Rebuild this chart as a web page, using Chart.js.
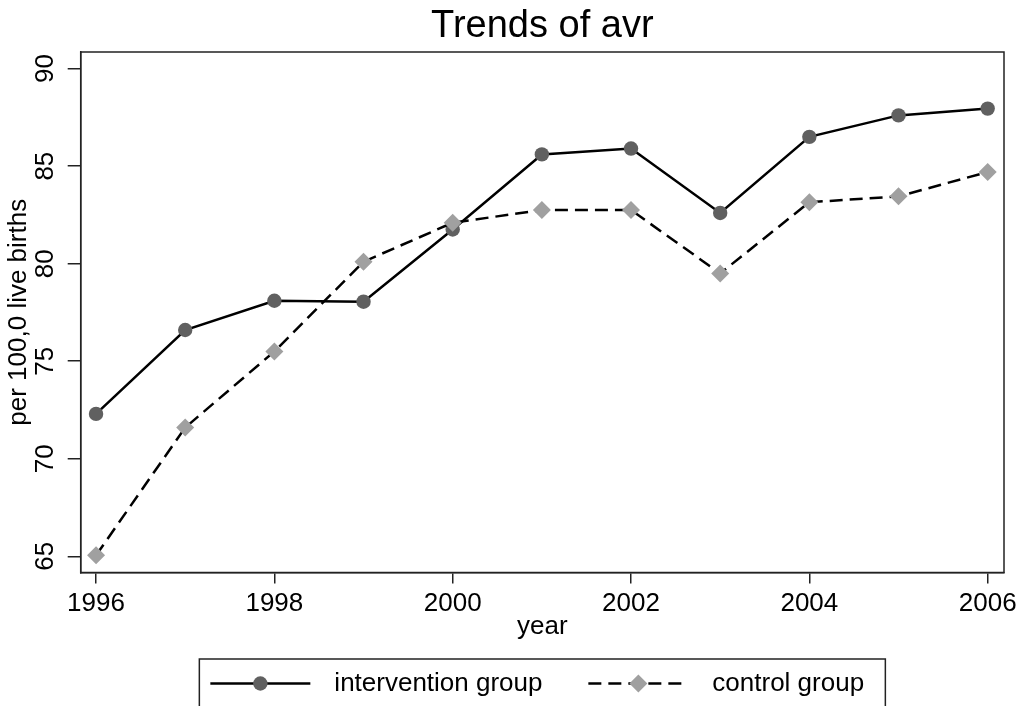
<!DOCTYPE html>
<html lang="en">
<head>
<meta charset="UTF-8">
<title>Trends of avr</title>
<script src="https://cdn.jsdelivr.net/npm/chart.js"></script>
<style>
  body { margin: 0; background: #fff; }
</style>
</head>
<body>
<canvas id="avrChart" width="1024" height="706"></canvas>
<script>
// values
const years = [1996, 1997, 1998, 1999, 2000, 2001, 2002, 2003, 2004, 2005, 2006];
const intervention = [72.3, 76.6, 78.1, 78.05, 81.75, 85.6, 85.9, 82.6, 86.5, 87.6, 87.95];
const control = [65.05, 71.6, 75.5, 80.1, 82.1, 82.75, 82.75, 79.5, 83.15, 83.45, 84.7];
const xTicks = [1996, 1998, 2000, 2002, 2004, 2006];
const yTicks = [65, 70, 75, 80, 85, 90];
const seriesNames = ['intervention group', 'control group'];

const fontFamily = '"Liberation Sans", Arial, Helvetica, sans-serif';
const ink = '#222';

// box round the plot region (top and right sides too)
const framePlugin = {
  id: 'frame',
  afterDatasetsDraw(chart) {
    const a = chart.chartArea;
    const ctx = chart.ctx;
    ctx.save();
    ctx.strokeStyle = ink;
    ctx.lineWidth = 1.5;
    ctx.strokeRect(a.left, a.top, a.right - a.left, a.bottom - a.top);
    ctx.restore();
  }
};

// legend box under the axis: line sample with marker in the middle, then label
const boxLegendPlugin = {
  id: 'boxLegend',
  afterDraw(chart) {
    const ctx = chart.ctx;
    const a = chart.chartArea;
    const boxW = 686;
    const left = (a.left + a.right) / 2 - boxW / 2;
    const top = 659;
    const y = 683.5;
    const offsets = [11, 389];

    ctx.save();
    ctx.strokeStyle = ink;
    ctx.lineWidth = 1.5;
    ctx.strokeRect(left, top, boxW, 80);

    chart.data.datasets.forEach((ds, i) => {
      const x0 = left + offsets[i];
      ctx.strokeStyle = ds.borderColor;
      ctx.lineWidth = ds.borderWidth;
      ctx.setLineDash(ds.borderDash || []);
      ctx.beginPath();
      ctx.moveTo(x0, y);
      ctx.lineTo(x0 + 100, y);
      ctx.stroke();
      ctx.setLineDash([]);

      const mx = x0 + 50;
      const r = ds.pointRadius;
      ctx.fillStyle = ds.pointBackgroundColor;
      ctx.beginPath();
      if (ds.pointStyle === 'rectRot') {
        ctx.moveTo(mx - r, y);
        ctx.lineTo(mx, y - r);
        ctx.lineTo(mx + r, y);
        ctx.lineTo(mx, y + r);
        ctx.closePath();
      } else {
        ctx.arc(mx, y, r, 0, Math.PI * 2);
      }
      ctx.fill();

      ctx.fillStyle = '#000';
      ctx.font = '26px ' + fontFamily;
      ctx.textBaseline = 'middle';
      ctx.textAlign = 'left';
      ctx.fillText(ds.label, x0 + 124, y);
    });
    ctx.restore();
  }
};

const ctx = document.getElementById('avrChart').getContext('2d');
new Chart(ctx, {
  type: 'line',
  data: {
    datasets: [
      {
        label: seriesNames[0],
        data: years.map((yr, i) => ({ x: yr, y: intervention[i] })),
        borderColor: '#000',
        borderWidth: 2.5,
        pointStyle: 'circle',
        pointRadius: 7.2,
        pointBackgroundColor: '#606060',
        pointBorderWidth: 0,
        tension: 0,
        order: 2
      },
      {
        label: seriesNames[1],
        data: years.map((yr, i) => ({ x: yr, y: control[i] })),
        borderColor: '#000',
        borderWidth: 2.5,
        borderDash: [13, 7],
        pointStyle: 'rectRot',
        pointRadius: 9,
        pointBackgroundColor: '#a0a0a0',
        pointBorderWidth: 0,
        tension: 0,
        order: 1
      }
    ]
  },
  options: {
    responsive: false,
    animation: false,
    layout: { padding: { left: 0, right: 20, top: 0, bottom: 63.5 } },
    plugins: {
      legend: { display: false },
      tooltip: { enabled: false },
      title: {
        display: true,
        text: 'Trends of avr',
        fullSize: false,
        color: '#000',
        font: { family: fontFamily, size: 38, weight: 'normal', lineHeight: 1.2 },
        padding: { top: 3.3, bottom: 3.1 }
      }
    },
    scales: {
      x: {
        type: 'linear',
        min: 1995.828,
        max: 2006.183,
        afterBuildTicks: s => { s.ticks = xTicks.map(v => ({ value: v })); },
        afterFit: s => { s.height = 70; },
        grid: { display: true, drawOnChartArea: false, drawTicks: true, tickLength: 11, color: ink, lineWidth: 1.5 },
        border: { display: true, color: ink, width: 1.5 },
        ticks: {
          color: '#000',
          font: { family: fontFamily, size: 26 },
          padding: 5,
          maxRotation: 0,
          autoSkip: false,
          callback: v => String(v)
        },
        title: {
          display: true,
          text: 'year',
          color: '#000',
          font: { family: fontFamily, size: 26, lineHeight: 1.2 },
          padding: { top: 0, bottom: 0 }
        }
      },
      y: {
        min: 64.17,
        max: 90.85,
        afterBuildTicks: s => { s.ticks = yTicks.map(v => ({ value: v })); },
        afterFit: s => { s.width = 80.7; },
        grid: { display: true, drawOnChartArea: false, drawTicks: true, tickLength: 13, color: ink, lineWidth: 1.5 },
        border: { display: true, color: ink, width: 1.5 },
        ticks: {
          color: '#000',
          font: { family: fontFamily, size: 26 },
          minRotation: 90,
          maxRotation: 90,
          crossAlign: 'center',
          padding: 7.2,
          autoSkip: false,
          callback: v => String(v)
        },
        title: {
          display: true,
          text: 'per 100,0 live births',
          color: '#000',
          font: { family: fontFamily, size: 26, lineHeight: 1.2 },
          padding: { top: 3.2, bottom: 0 }
        }
      }
    }
  },
  plugins: [framePlugin, boxLegendPlugin]
});
</script>
</body>
</html>
